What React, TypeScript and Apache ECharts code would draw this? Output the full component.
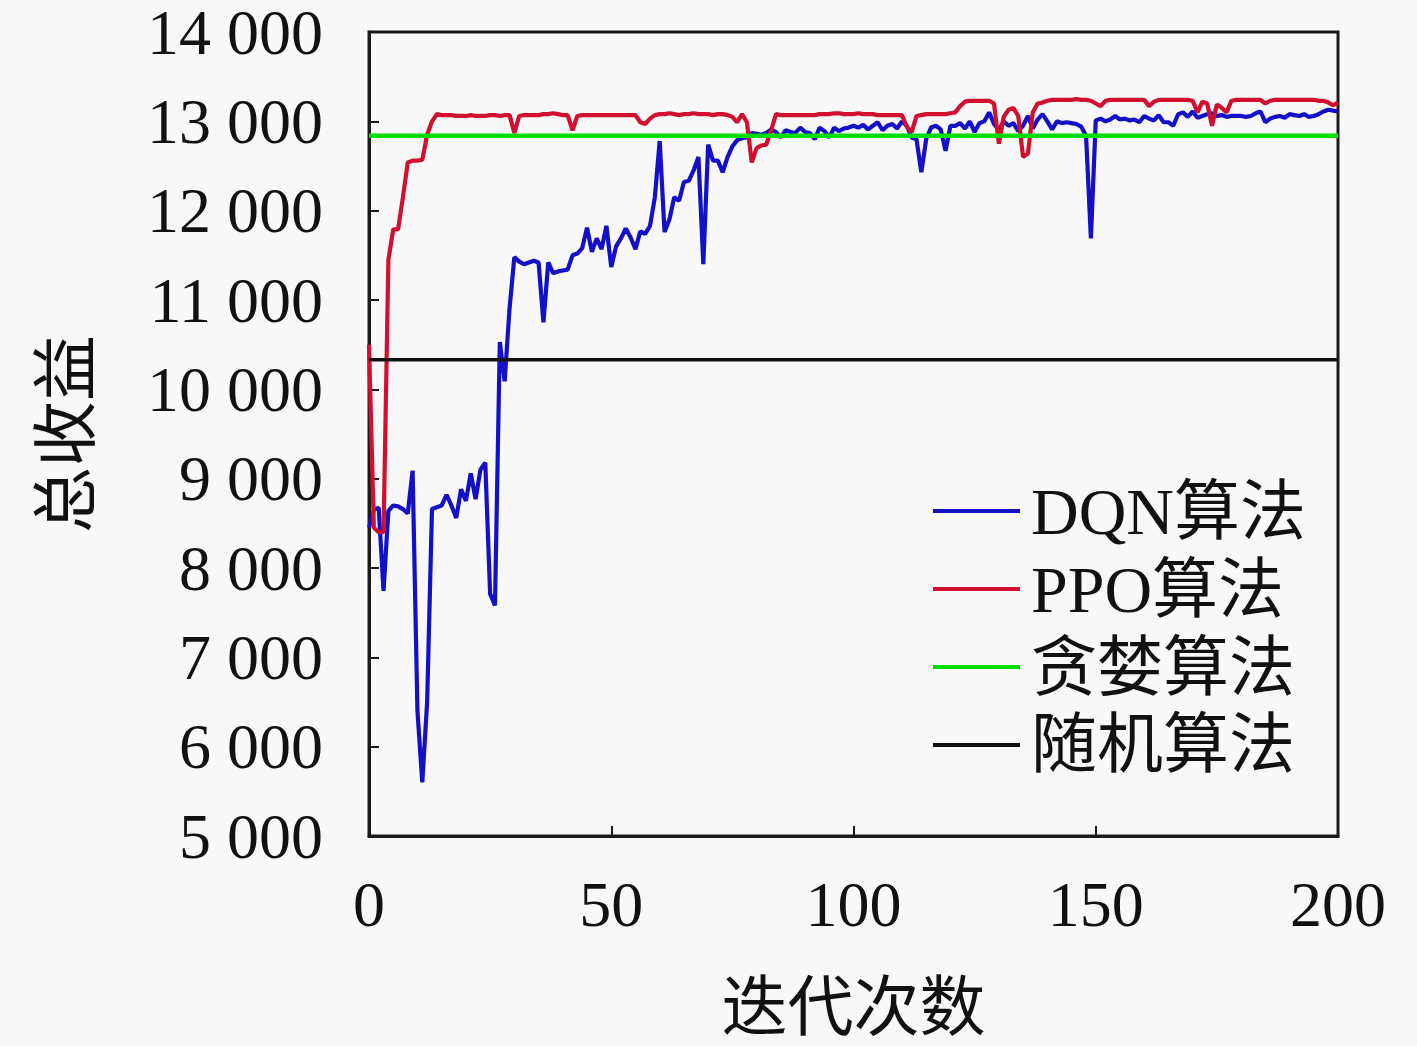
import React, { useEffect, useRef } from "react";
import * as echarts from "echarts";

const xValues: number[] = Array.from({ length: 201 }, (_, i) => i);

const dqn: number[] = [
  8450, 8650, 8675, 7745, 8640, 8700, 8690, 8660, 8610, 9090,
  6400, 5600, 6500, 8660, 8680, 8700, 8820, 8700, 8560, 8880,
  8750, 9060, 8770, 9100, 9180, 7710, 7580, 10530, 10090, 10900,
  11480, 11430, 11400, 11420, 11440, 11420, 10750, 11420, 11300, 11320,
  11330, 11340, 11500, 11520, 11580, 11810, 11540, 11690, 11570, 11830,
  11370, 11600, 11690, 11800, 11700, 11570, 11770, 11740, 11830, 12150,
  12780, 11760, 11900, 12150, 12110, 12320, 12335, 12450, 12600, 11400,
  12740, 12560, 12560, 12430, 12600, 12720, 12790, 12810, 12820, 12870,
  12860, 12850, 12870, 12910, 12880, 12820, 12900, 12880, 12870, 12930,
  12880, 12870, 12800, 12930, 12890, 12820, 12930, 12890, 12920, 12930,
  12950, 12930, 12960, 12910, 12950, 12990, 12900, 12950, 12970, 12920,
  13000, 12950, 12820, 12800, 12430, 12800, 12930, 12950, 12910, 12670,
  12950, 12950, 12980, 12920, 13000, 12880, 12980, 13000, 13100, 12970,
  12900, 13000, 12950, 12980, 12890, 12950, 13060, 12920, 13020, 13080,
  13000, 12910, 13000, 12980, 12990, 12980, 12970, 12940, 12840, 11690,
  13010, 13030, 13000, 13020, 13060, 13020, 13030, 13010, 13020, 12990,
  13060, 13030, 13010, 13070, 12990, 12990, 12950, 13080, 13100, 13050,
  13110, 13040, 13060, 13080, 13090, 13060, 13070, 13050, 13060, 13060,
  13060, 13050, 13060, 13090, 13110, 12990, 13030, 13050, 13060, 13040,
  13080, 13070, 13060, 13080, 13050, 13060, 13080, 13110, 13130, 13120,
  13110,
];

const ppo: number[] = [
  10500, 8450, 8400, 8400, 11450, 11790, 11790, 12150, 12540, 12560,
  12560, 12570, 12850, 13000, 13080, 13070, 13070, 13070, 13060, 13060,
  13060, 13070, 13060, 13060, 13060, 13070, 13070, 13060, 13070, 13070,
  12870, 13060, 13070, 13070, 13070, 13070, 13080, 13080, 13090, 13080,
  13070, 13070, 12900, 13060, 13070, 13070, 13070, 13070, 13070, 13070,
  13070, 13070, 13070, 13070, 13070, 13070, 12990, 12970, 13030, 13070,
  13080, 13080, 13090, 13080, 13070, 13080, 13080, 13090, 13080, 13080,
  13080, 13070, 13080, 13080, 13070, 13050, 12990, 13080, 12990, 12540,
  12700, 12730, 12740, 12900, 13080, 13070, 13070, 13070, 13070, 13070,
  13070, 13070, 13070, 13080, 13080, 13080, 13090, 13090, 13080, 13080,
  13080, 13090, 13080, 13080, 13080, 13070, 13070, 13070, 13070, 13070,
  13070, 12940, 12880, 13060, 13070, 13080, 13080, 13080, 13080, 13080,
  13090, 13100, 13170, 13220, 13230, 13230, 13230, 13230, 13230, 13200,
  12750, 13050, 13130, 13150, 13060, 12600, 12640, 13100, 13200, 13210,
  13230, 13240, 13240, 13240, 13240, 13240, 13250, 13240, 13240, 13230,
  13200, 13170, 13230, 13240, 13240, 13240, 13240, 13240, 13240, 13240,
  13240, 13170, 13220, 13240, 13240, 13240, 13240, 13240, 13240, 13240,
  13230, 13100, 13220, 13200, 12950, 13190, 13150, 13100, 13230, 13240,
  13240, 13240, 13240, 13240, 13240, 13200, 13230, 13240, 13240, 13240,
  13240, 13240, 13240, 13240, 13240, 13240, 13230, 13230, 13210, 13180,
  13210,
];

const greedyValue = 12840;
const randomValue = 10330;

const seriesNames = ["DQN算法", "PPO算法", "贪婪算法", "随机算法"];
const seriesColors = ["#1410c8", "#d0102e", "#00dd00", "#111111"];

const xTicks = { min: 0, max: 200, interval: 50 };
const yTicks = { min: 5000, max: 14000, interval: 1000 };

const axisNames = { x: "迭代次数", y: "总收益" };

const serif = "'Liberation Serif', 'DejaVu Serif', serif";
const cjk = "'Liberation Serif', 'Noto Sans CJK SC', sans-serif";

function fmtThousands(v: number): string {
  if (v < 1000) return String(v);
  const k = Math.floor(v / 1000);
  const r = v % 1000;
  return k + " " + String(r).padStart(3, "0");
}

export default function App() {
  const ref = useRef<HTMLDivElement>(null);

  useEffect(() => {
    if (!ref.current) return;
    const chart = echarts.init(ref.current, undefined, { renderer: "svg" });
    const pair = (arr: number[]) => arr.map((v, i) => [xValues[i], v]);
    const lastX = xValues[xValues.length - 1];
    const flat = (v: number) => [
      [xValues[0], v],
      [lastX, v],
    ];
    const datas = [pair(dqn), pair(ppo), flat(greedyValue), flat(randomValue)];
    const widths = [4.2, 4.2, 4.5, 3.5];

    chart.setOption({
      animation: false,
      backgroundColor: "#f8f8f8",
      grid: {
        left: 369,
        top: 29,
        right: 79,
        bottom: 210,
        show: true,
        borderColor: "#1a1a1a",
        borderWidth: 3,
        backgroundColor: "transparent",
      },
      legend: {
        show: true,
        orient: "vertical",
        left: 928,
        top: 473,
        icon: "rect",
        itemWidth: 87,
        itemHeight: 4,
        itemGap: 12,
        data: seriesNames,
        textStyle: {
          fontFamily: cjk,
          fontSize: 66,
          color: "#111",
          padding: [0, 0, 0, 6],
        },
      },
      xAxis: {
        type: "value",
        min: xTicks.min,
        max: xTicks.max,
        interval: xTicks.interval,
        name: axisNames.x,
        nameLocation: "middle",
        nameGap: 138,
        nameTextStyle: { fontFamily: cjk, fontSize: 66, color: "#111" },
        axisLine: { show: true, lineStyle: { color: "#1a1a1a", width: 3 } },
        axisTick: { show: true, inside: true, length: 10, lineStyle: { color: "#1a1a1a", width: 2 } },
        axisLabel: { fontFamily: serif, fontSize: 64, color: "#111", margin: 36 },
        splitLine: { show: false },
      },
      yAxis: {
        type: "value",
        min: yTicks.min,
        max: yTicks.max,
        interval: yTicks.interval,
        name: axisNames.y,
        nameLocation: "middle",
        nameGap: 270,
        nameRotate: 90,
        nameTextStyle: { fontFamily: cjk, fontSize: 66, color: "#111" },
        axisLine: { show: true, lineStyle: { color: "#1a1a1a", width: 3 } },
        axisTick: { show: true, inside: true, length: 10, lineStyle: { color: "#1a1a1a", width: 2 } },
        axisLabel: {
          fontFamily: serif,
          fontSize: 64,
          lineHeight: 50,
          color: "#111",
          margin: 46,
          formatter: (v: number) => fmtThousands(v),
        },
        splitLine: { show: false },
      },
      series: seriesNames.map((name, k) => ({
        name,
        type: "line",
        data: datas[k],
        showSymbol: false,
        symbol: "none",
        color: seriesColors[k],
        lineStyle: { color: seriesColors[k], width: widths[k] },
        z: 2 + k,
      })),
    });

    return () => chart.dispose();
  }, []);

  return (
    <div
      ref={ref}
      style={{ position: "fixed", left: 0, top: 0, width: 1417, height: 1046 }}
    />
  );
}
